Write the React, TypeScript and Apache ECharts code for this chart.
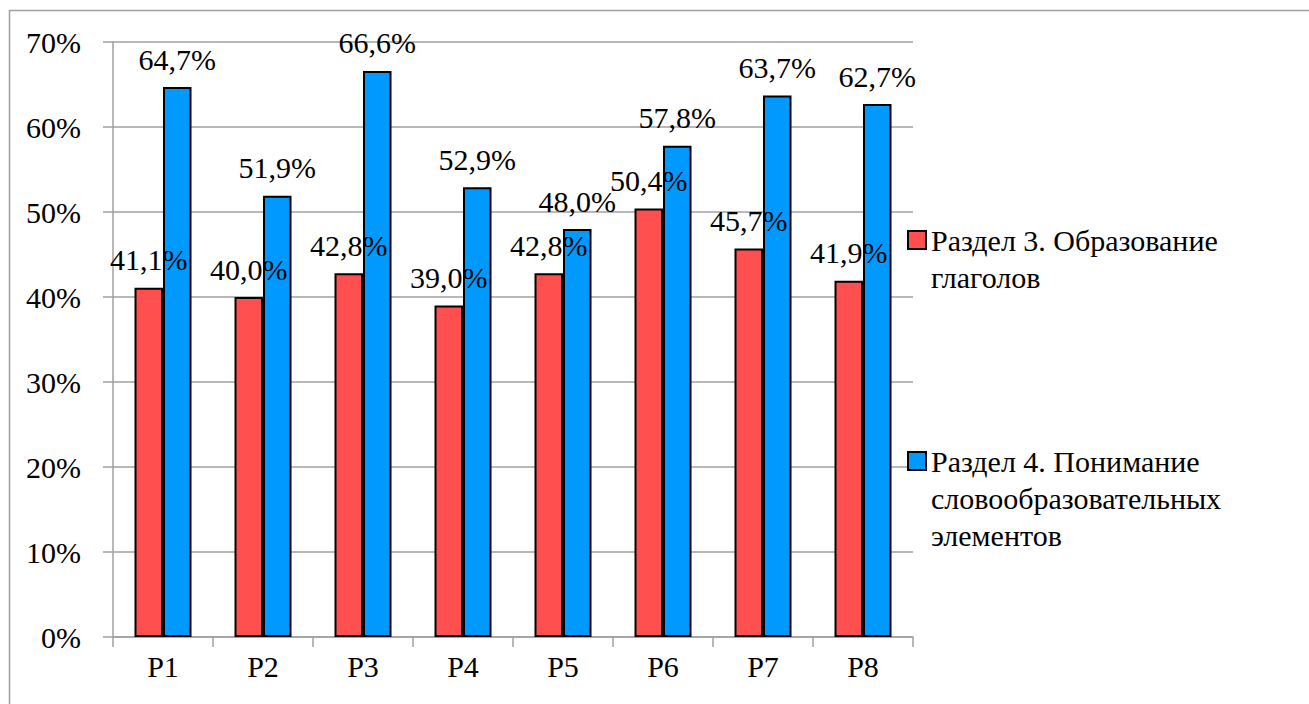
import React, { useEffect, useRef } from "react";
import * as echarts from "echarts";

const categories = ["P1", "P2", "P3", "P4", "P5", "P6", "P7", "P8"];
const seriesNames = [
  "Раздел 3. Образование\nглаголов",
  "Раздел 4. Понимание\nсловообразовательных\nэлементов",
];
const section3 = [41.1, 40.0, 42.8, 39.0, 42.8, 50.4, 45.7, 41.9];
const section4 = [64.7, 51.9, 66.6, 52.9, 48.0, 57.8, 63.7, 62.7];
const colors = ["#FF4F4F", "#0099FF"];

const FONT = "Liberation Serif";
const FS = 30;

export default function App() {
  const ref = useRef<HTMLDivElement>(null);
  useEffect(() => {
    document.body.style.margin = "0";
    const chart = echarts.init(ref.current!, null, { renderer: "svg" });
    const fmt = (p: any) => p.value.toFixed(1).replace(".", ",") + "%";
    const lineH = 37;
    const txt = { fontFamily: FONT, fontSize: FS, color: "#000" };
    const mkLegend = (name: string, top: number, color: string) => {
      const n = name.split("\n").length;
      return {
        orient: "vertical",
        left: 907,
        top,
        padding: 0,
        itemWidth: 18,
        itemHeight: 18,
        itemGap: 0,
        selectedMode: false,
        data: [name],
        icon: "rect",
        formatter: (s: string) => "\n".repeat(n - 1) + s,
        itemStyle: { color, borderColor: "#000", borderWidth: 2 },
        textStyle: { ...txt, lineHeight: lineH },
      };
    };
    chart.setOption({
      animation: false,
      backgroundColor: "#fff",
      textStyle: { fontFamily: FONT },
      graphic: [
        {
          type: "rect",
          shape: { x: 9.5, y: 10.5, width: 1400, height: 800 },
          style: { fill: "none", stroke: "#a0a0a0", lineWidth: 1.5 },
          silent: true,
        },
      ],
      legend: [
        mkLegend(seriesNames[0], 184.5, colors[0]),
        mkLegend(seriesNames[1], 368.5, colors[1]),
      ],
      grid: { left: 113, right: 396, top: 42, bottom: 67 },
      xAxis: {
        type: "category",
        data: categories,
        axisLine: { lineStyle: { color: "#a0a0a0", width: 1.5 } },
        axisTick: { show: true, length: 10, lineStyle: { color: "#a0a0a0", width: 1.5 } },
        axisLabel: { ...txt, margin: 14 },
      },
      yAxis: {
        type: "value",
        min: 0,
        max: 70,
        interval: 10,
        axisLine: { show: true, lineStyle: { color: "#a0a0a0", width: 1.5 } },
        axisTick: { show: true, length: 10, lineStyle: { color: "#a0a0a0", width: 1.5 } },
        splitLine: { lineStyle: { color: "#a0a0a0", width: 1.5 } },
        axisLabel: { ...txt, margin: 32, formatter: "{value}%" },
      },
      series: [
        {
          name: seriesNames[0],
          type: "bar",
          data: section3,
          barWidth: 28.5,
          barGap: "0%",
          itemStyle: { color: colors[0], borderColor: "#000", borderWidth: 2 },
          label: { show: true, position: "top", distance: 13, formatter: fmt, ...txt },
        },
        {
          name: seriesNames[1],
          type: "bar",
          data: section4,
          barWidth: 28.5,
          barGap: "0%",
          itemStyle: { color: colors[1], borderColor: "#000", borderWidth: 2 },
          label: { show: true, position: "top", distance: 13, formatter: fmt, ...txt },
        },
      ],
    });
    return () => chart.dispose();
  }, []);
  return <div ref={ref} style={{ width: 1309, height: 704 }} />;
}
